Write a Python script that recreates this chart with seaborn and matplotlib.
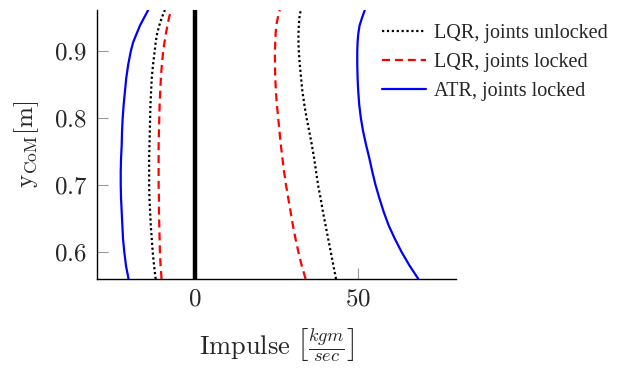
import matplotlib
matplotlib.use('Agg')
import matplotlib.pyplot as plt
import seaborn as sns
from matplotlib.ticker import FuncFormatter

y_com = [0.961, 0.95, 0.938, 0.925, 0.913, 0.90, 0.88, 0.86, 0.84, 0.82, 0.80, 0.78,
         0.76, 0.74, 0.72, 0.70, 0.68, 0.66, 0.64, 0.62, 0.60, 0.58, 0.56]

lqr_unlocked_left = [-9.2, -10.1, -10.9, -11.6, -12.0, -12.3, -12.8, -13.2, -13.4, -13.6, -13.7, -13.8,
                     -13.9, -14.0, -14.0, -14.0, -13.9, -13.7, -13.5, -13.2, -12.9, -12.5, -12.0]
lqr_unlocked_right = [32.4, 32.0, 31.8, 31.7, 31.7, 31.8, 32.1, 32.5, 32.9, 33.5, 34.2, 35.0,
                      35.8, 36.5, 37.1, 37.7, 38.5, 39.2, 40.0, 40.8, 41.6, 42.4, 43.2]
lqr_locked_left = [-7.3, -7.9, -8.4, -8.9, -9.3, -9.7, -10.1, -10.4, -10.6, -10.8, -10.9, -11.0,
                   -11.1, -11.1, -11.1, -11.1, -11.0, -11.0, -10.9, -10.8, -10.7, -10.5, -10.2]
lqr_locked_right = [26.0, 25.4, 24.9, 24.7, 24.6, 24.5, 24.5, 24.6, 24.8, 25.1, 25.5, 25.9,
                    26.3, 26.8, 27.3, 27.9, 28.6, 29.3, 30.0, 30.8, 31.7, 32.7, 33.9]
atr_locked_left = [-14.3, -15.5, -16.8, -17.9, -18.9, -19.6, -20.4, -21.0, -21.4, -21.8, -22.1, -22.3,
                   -22.4, -22.6, -22.7, -22.7, -22.6, -22.4, -22.2, -22.0, -21.6, -21.1, -20.3]
atr_locked_right = [52.0, 51.2, 50.4, 50.0, 49.8, 49.7, 49.7, 49.8, 50.0, 50.3, 50.8, 51.5,
                    52.4, 53.4, 54.3, 55.3, 56.5, 57.8, 59.3, 61.2, 63.3, 65.7, 68.4]

labels = ['LQR, joints unlocked', 'LQR, joints locked', 'ATR, joints locked']

sns.set_style('white')
plt.rcParams['font.family'] = ['Liberation Serif', 'DejaVu Serif']
plt.rcParams['mathtext.fontset'] = 'cm'

fig = plt.figure(figsize=(6.25, 3.73), dpi=100)
ax = fig.add_axes([0.155, 0.252, 0.575, 0.721])

series = [
    (labels[0], lqr_unlocked_left, lqr_unlocked_right, 'black', (0, (1.0, 1.2))),
    (labels[1], lqr_locked_left, lqr_locked_right, 'red', (0, (3.6, 2.2))),
    (labels[2], atr_locked_left, atr_locked_right, 'blue', '-'),
]
handles = []
for name, left, right, color, ls in series:
    sns.lineplot(x=left, y=y_com, orient='y', color=color, lw=1.6, ax=ax)
    ax.lines[-1].set_linestyle(ls)
    handles.append(ax.lines[-1])
    sns.lineplot(x=right, y=y_com, orient='y', color=color, lw=1.6, ax=ax)
    ax.lines[-1].set_linestyle(ls)

ax.axvline(0, color='black', lw=3.2)

ax.set_xlim(-30, 80)
ax.set_ylim(0.56, 0.961)
ax.set_xticks([0, 50])
ax.set_yticks([0.6, 0.7, 0.8, 0.9])
ax.xaxis.set_major_formatter(FuncFormatter(lambda v, p: f'${v:g}$'))
ax.yaxis.set_major_formatter(FuncFormatter(lambda v, p: f'${v:.1f}$'))
ax.tick_params(bottom=True, left=True, direction='in', length=8, width=0.8,
               color='#999999', labelsize=18, pad=7)
for s in ['top', 'right']:
    ax.spines[s].set_visible(False)
for s in ['left', 'bottom']:
    ax.spines[s].set_color('black')
    ax.spines[s].set_linewidth(1.0)

ax.set_xlabel(r'$\mathrm{Impulse}\ \left[\frac{kgm}{sec}\right]$', fontsize=19, labelpad=11)
ax.set_ylabel(r'$\mathrm{y}_{\mathrm{CoM}}[\mathrm{m}]$', fontsize=18, labelpad=9)

fig.legend(handles, labels, loc='upper left', bbox_to_anchor=(0.611, 0.937), frameon=False,
           fontsize=14.5, handlelength=2.2, handletextpad=0.4, labelspacing=0.5,
           borderaxespad=0, borderpad=0)

fig.savefig('out.png', dpi=100)
